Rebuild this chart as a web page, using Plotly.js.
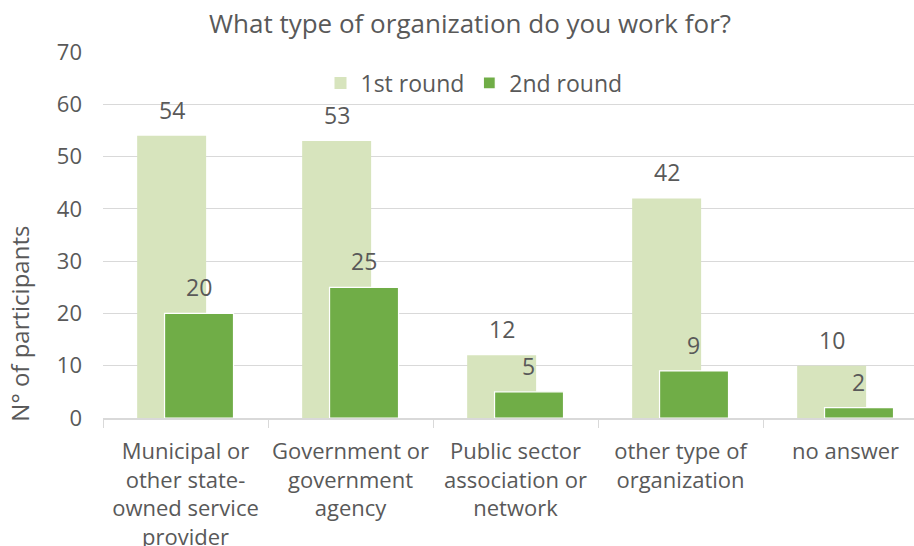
<!DOCTYPE html>
<html>
<head>
<meta charset="utf-8">
<script src="https://cdn.plot.ly/plotly-3.0.1.min.js"></script>
<style>
html,body{margin:0;padding:0;overflow:hidden;background:#fff;}
#chart{width:940px;height:546px;}
</style>
</head>
<body>
<div id="chart"></div>
<script>
const categories = [
  "Municipal or<br>other state-<br>owned service<br>provider",
  "Government or<br>government<br>agency",
  "Public sector<br>association or<br>network",
  "other type of<br>organization",
  "no answer"
];
const round1 = [54, 53, 12, 42, 10];
const round2 = [20, 25, 5, 9, 2];
const seriesNames = ["1st round", "2nd round"];

const textColor = "#595959";
const font = "Open Sans, sans-serif";

const traces = [
  {
    type: "bar", name: seriesNames[0], x: categories, y: round1,
    width: 0.418, offset: -0.293,
    marker: {color: "#d7e4bd", line: {width: 0}},
    hoverinfo: "y"
  },
  {
    type: "bar", name: seriesNames[1], x: categories, y: round2,
    width: 0.418, offset: -0.127,
    marker: {color: "#70ad47", line: {width: 1.2, color: "#ffffff"}},
    hoverinfo: "y"
  }
];

const annotations = [];
categories.forEach((c, i) => {
  annotations.push({x: c, y: round1[i], xref: "x", yref: "y", text: String(round1[i]),
    showarrow: false, xshift: -14, yshift: 26, yanchor: "middle",
    font: {family: font, size: 23, color: textColor}});
  annotations.push({x: c, y: round2[i], xref: "x", yref: "y", text: String(round2[i]),
    showarrow: false, xshift: 13, yshift: 26, yanchor: "middle",
    font: {family: font, size: 23, color: textColor}});
});
annotations.push({
  text: "N° of participants", textangle: -90, showarrow: false,
  xref: "paper", yref: "paper", x: -0.1006, y: 0.2577,
  xanchor: "center", yanchor: "middle",
  font: {family: font, size: 24, color: textColor}
});

const layout = {
  width: 940, height: 546,
  margin: {l: 103, r: 12, t: 52, b: 128},
  paper_bgcolor: "#ffffff", plot_bgcolor: "#ffffff",
  font: {family: font, size: 20, color: textColor},
  title: {text: "What type of organization do you work for?",
    font: {family: font, size: 26, color: textColor},
    x: 0.5, xref: "container", xanchor: "center",
    y: 1 - 24/546, yref: "container", yanchor: "middle"},
  barmode: "overlay",
  showlegend: true,
  legend: {orientation: "h", xref: "paper", yref: "paper",
    x: (474 - 103) / 825, xanchor: "center", y: (418.3 - 83) / 366.3, yanchor: "middle",
    bgcolor: "rgba(0,0,0,0)", font: {family: font, size: 23, color: textColor},
    traceorder: "normal"},
  xaxis: {
    type: "category", tickson: "boundaries", ticks: "outside", ticklen: 8,
    tickcolor: "#d9d9d9", showline: true, linecolor: "#d9d9d9", linewidth: 1.5,
    showgrid: false, tickangle: 0,
    tickfont: {family: font, size: 22, color: textColor},
    ticklabelstandoff: 13
  },
  yaxis: {
    range: [0, 70], dtick: 10, tick0: 0, showgrid: true, gridcolor: "#d9d9d9",
    gridwidth: 1.2, zeroline: false, showline: false, ticks: "",
    tickfont: {family: font, size: 22, color: textColor},
    ticklabelstandoff: 20
  },
  annotations: annotations
};

Plotly.newPlot("chart", traces, layout, {displayModeBar: false, staticPlot: true});
</script>
</body>
</html>
